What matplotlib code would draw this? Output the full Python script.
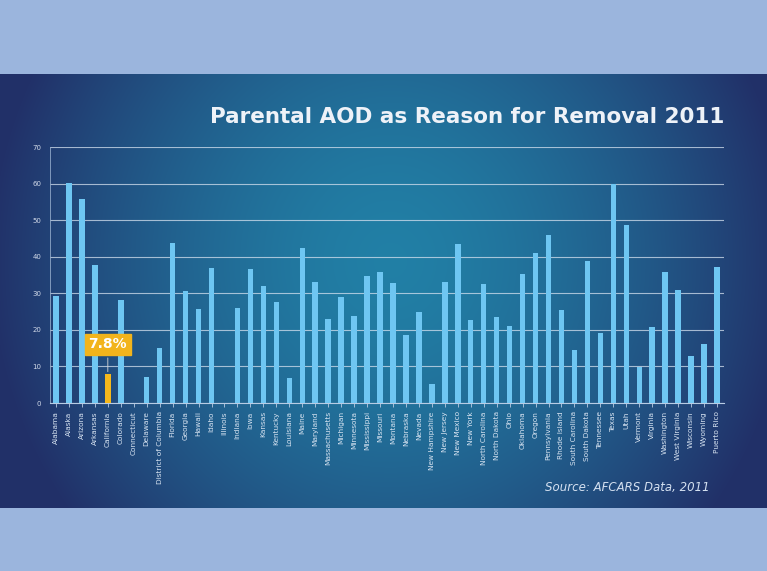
import numpy as np
import matplotlib.pyplot as plt

states = ["Alabama", "Alaska", "Arizona", "Arkansas", "California", "Colorado",
          "Connecticut", "Delaware", "District of Columbia", "Florida", "Georgia",
          "Hawaii", "Idaho", "Illinois", "Indiana", "Iowa", "Kansas", "Kentucky",
          "Louisiana", "Maine", "Maryland", "Massachusetts", "Michigan", "Minnesota",
          "Mississippi", "Missouri", "Montana", "Nebraska", "Nevada", "New Hampshire",
          "New Jersey", "New Mexico", "New York", "North Carolina", "North Dakota",
          "Ohio", "Oklahoma", "Oregon", "Pennsylvania", "Rhode Island",
          "South Carolina", "South Dakota", "Tennessee", "Texas", "Utah", "Vermont",
          "Virginia", "Washington", "West Virginia", "Wisconsin", "Wyoming",
          "Puerto Rico"]
values = [29.2, 60.1, 55.9, 37.8, 7.8, 28.3,
          0, 7.2, 15.1, 43.8, 30.7,
          25.6, 37.0, 0, 26.1, 36.7, 31.9, 27.5,
          6.7, 42.3, 33.0, 23.1, 29.0, 23.8,
          34.7, 35.7, 32.7, 18.6, 25.0, 5.2,
          33.0, 43.5, 22.7, 32.6, 23.4,
          21.0, 35.4, 41.1, 45.9, 25.4,
          14.5, 38.8, 19.1, 59.8, 48.6, 9.8,
          20.8, 35.8, 31.0, 12.9, 16.0,
          37.1]
highlight = "California"
yticks = [0, 10, 20, 30, 40, 50, 60, 70]

W, H = 767, 571
fig = plt.figure(figsize=(W / 100, H / 100), dpi=100)

# fond: bandes claires haut/bas, panneau bleu en dégradé radial
bg = fig.add_axes([0, 0, 1, 1])
yy, xx = np.mgrid[0:H, 0:W]
band = np.array([0.61, 0.71, 0.87])
edge = np.array([0.13, 0.19, 0.41])
center = np.array([0.13, 0.50, 0.65])
r = np.sqrt(((xx - 390) / 400.0) ** 2 + ((yy - 260) / 420.0) ** 2)
t = np.clip(r, 0, 1)[..., None] ** 1.6
img = center * (1 - t) + edge * t
panel = (yy >= 74) & (yy <= 507)
img[~panel] = band
bg.imshow(img, aspect="auto", extent=[0, W, H, 0])
bg.axis("off")

ax = fig.add_axes([49.5 / W, 1 - 403 / H, 674 / W, 256 / H])
ax.set_facecolor("none")
x = np.arange(len(states))
colors = ["#f5b81c" if s == highlight else "#6ec6f2" for s in states]
ax.bar(x, values, width=0.42, color=colors, zorder=3)

ax.set_ylim(0, 70)
ax.set_xlim(-0.5, len(states) - 0.5)
ax.set_yticks(yticks)
ax.set_yticklabels([str(v) for v in yticks], fontsize=5, color="#d0d8e8")
ax.set_xticks(x)
ax.set_xticklabels(states, rotation=90, fontsize=5.3, color="#d8e4f2")
ax.tick_params(axis="y", length=0, pad=6)
ax.tick_params(axis="x", length=3, color="#b8cce4", width=0.6, pad=3)
ax.grid(axis="y", color="#d4e0ee", linewidth=0.8, alpha=0.75, zorder=1)
for side in ["top", "right"]:
    ax.spines[side].set_visible(False)
ax.spines["left"].set_color("#8fa8c8")
ax.spines["left"].set_linewidth(0.6)
ax.spines["bottom"].set_color("#b8cce4")
ax.spines["bottom"].set_linewidth(0.8)

# étiquette de la barre mise en avant
hi = states.index(highlight)
ax.annotate(f"{values[hi]}%", xy=(hi, values[hi]), xytext=(hi, 16.1),
            ha="center", va="center", fontsize=10, fontweight="bold", color="white",
            bbox=dict(boxstyle="square,pad=0.25", fc="#f2b41c", ec="#f2b41c"),
            arrowprops=dict(arrowstyle="-", color="#d8d8d8", lw=0.6), zorder=5)

fig.text(724 / W, 1 - 117 / H, "Parental AOD as Reason for Removal 2011",
         ha="right", va="center", fontsize=15.5, fontweight="bold", color="#eef2f8")
fig.text(710 / W, 1 - 487 / H, "Source: AFCARS Data, 2011",
         ha="right", va="center", fontsize=8.5, style="italic", color="#d4e0f0")

fig.savefig("out.png", dpi=100)
